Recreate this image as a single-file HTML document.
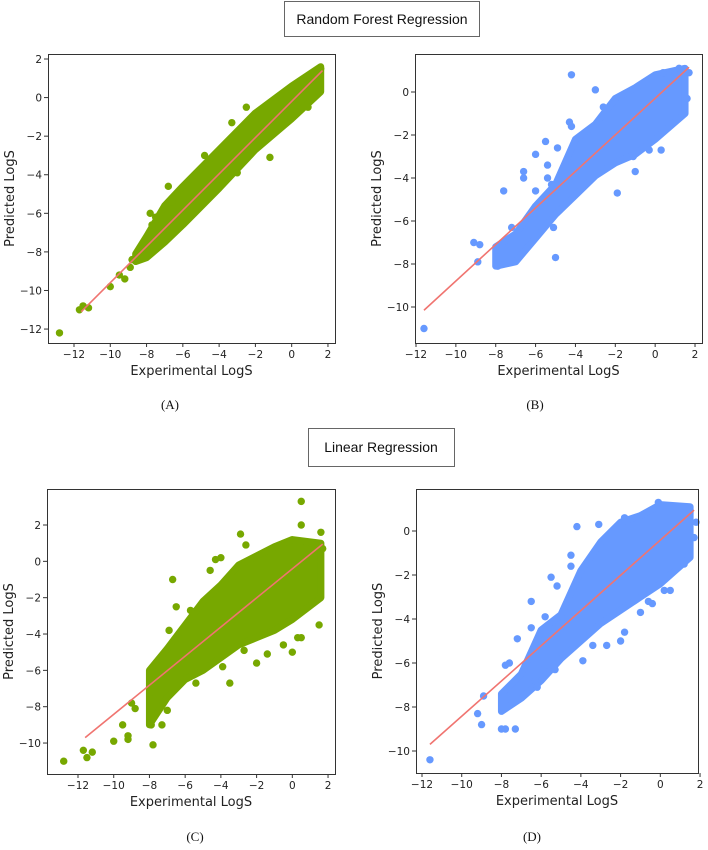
<!DOCTYPE html>
<html><head><meta charset="utf-8">
<style>
html,body{margin:0;padding:0;background:#fff;}
svg{display:block;font-family:"DejaVu Sans","Liberation Sans",sans-serif;}
.tick{font-size:10.5px;fill:#222;}
.axlab{font-size:13px;fill:#222;}
.cap{font-family:"Liberation Serif",serif;font-size:13px;fill:#111;}
.ttl{font-family:"Liberation Sans",sans-serif;font-size:14px;fill:#111;}
</style></head>
<body>
<svg id="fig" width="708" height="850" viewBox="0 0 708 850" xmlns="http://www.w3.org/2000/svg">
  <g>
    <rect x="284.5" y="1.5" width="195" height="35" fill="#fff" stroke="#666" stroke-width="1"/>
    <text class="ttl" x="382" y="24" text-anchor="middle">Random Forest Regression</text>
  </g>
  <g>
    <rect x="308.5" y="428.5" width="146" height="38" fill="#fff" stroke="#666" stroke-width="1"/>
    <text class="ttl" x="381" y="452" text-anchor="middle">Linear Regression</text>
  </g>
  <text class="cap" x="170" y="409" text-anchor="middle">(A)</text>
  <text class="cap" x="535" y="409" text-anchor="middle">(B)</text>
  <text class="cap" x="195" y="841" text-anchor="middle">(C)</text>
  <text class="cap" x="532" y="841" text-anchor="middle">(D)</text>
</svg>
<script>
// ---- Panel A data (Random Forest, green) ----
const aEnvX  = [-8.6, -8, -7, -6, -4, -2, 0, 1.6];
const aEnvHi = [-8.1, -7.2, -5.6, -4.6, -2.7, -0.8, 0.6, 1.6];
const aEnvLo = [-8.5, -8.3, -7.5, -6.6, -4.7, -2.7, -1.1, 0.3];
const aPtsX = [-12.8,-11.7,-11.5,-11.2,-10,-9.5,-9.2,-8.9,-8.8,-7.8,-7.7,-6.8,-6.6,-5.2,-3.3,-3.0,-1.2,-0.4,1.5,1.6,-4.8,-8.2,-7.5,-2.5,0.9];
const aPtsY = [-12.2,-11.0,-10.8,-10.9,-9.8,-9.2,-9.4,-8.8,-8.4,-6.0,-6.6,-4.6,-5.4,-5.7,-1.3,-3.9,-3.1,-1.1,0.3,1.5,-3.0,-7.8,-6.2,-0.5,-0.5];
const aLineX = [-11.6, 1.7];
const aLineY = [-11.1, 1.4];
// ---- Panel B data (Random Forest, blue) ----
const bEnvX  = [-8, -7, -6, -5, -4, -3, -2, -1, 0, 1.5];
const bEnvHi = [-7.2, -6.6, -5.3, -4.3, -2.2, -1.5, -0.3, 0.2, 0.8, 1.1];
const bEnvLo = [-8.1, -7.9, -6.8, -5.7, -4.8, -3.9, -3.3, -2.9, -2.2, -1.0];
const bPtsX = [-11.6,-9.1,-8.8,-8.9,-7.6,-6.6,-6.6,-6.0,-5.5,-5.4,-5.4,-4.9,-4.3,-4.2,-4.2,-3.0,-5.0,-5.1,-4.8,-1.9,-1.0,-0.3,0.3,1.7,1.6,0.4,1.2,-1.1,-6.0,-5.2,-2.6,-7.9,-7.2];
const bPtsY = [-11.0,-7.0,-7.1,-7.9,-4.6,-3.7,-4.0,-2.9,-2.3,-3.4,-4.0,-2.6,-1.4,-1.6,0.8,0.1,-7.7,-6.3,-5.5,-4.7,-3.7,-2.7,-2.7,0.9,-0.3,0.9,1.1,-3.0,-4.6,-4.3,-0.7,-8.1,-6.3];
const bLineX = [-11.6, 1.7];
const bLineY = [-10.15, 1.15];
// ---- Panel C data (Linear, green) ----
const cEnvX  = [-8, -7, -6, -5, -4, -3, -2, -1, 0, 1.6];
const cEnvHi = [-6.0, -4.8, -3.5, -2.2, -1.3, -0.2, 0.3, 0.8, 1.2, 1.0];
const cEnvLo = [-9.0, -7.5, -6.5, -6.0, -5.3, -4.6, -4.2, -3.8, -3.2, -2.0];
const cPtsX = [-12.8,-11.7,-11.5,-11.2,-10,-9.5,-9.2,-9.2,-9.0,-8.8,-7.8,-7.9,-7.3,-7.0,-6.7,-6.5,-6.9,-5.7,-4.3,-4.0,-2.9,-3.5,-2.0,-1.4,-0.5,0.3,0.5,0.0,1.5,0.5,0.5,1.6,-5.4,-2.7,-3.9,1.7,-2.6,-4.6];
const cPtsY = [-11.0,-10.4,-10.8,-10.5,-9.9,-9.0,-9.6,-9.8,-7.8,-8.1,-10.1,-9.0,-9.0,-8.2,-1.0,-2.5,-3.8,-2.7,0.1,0.2,1.5,-6.7,-5.6,-5.1,-4.6,-4.2,-4.2,-5.0,-3.5,3.3,2.0,1.6,-6.7,-4.9,-5.8,0.7,0.9,-0.5];
const cLineX = [-11.6, 1.7];
const cLineY = [-9.7, 0.95];
// ---- Panel D data (Linear, blue) ----
const dEnvX  = [-8, -7, -6, -5, -4, -3, -2, -1, 0, 1.5];
const dEnvHi = [-7.4, -6.5, -4.5, -3.8, -1.8, -0.5, 0.4, 0.7, 1.2, 1.1];
const dEnvLo = [-8.2, -7.6, -6.8, -5.8, -5.0, -4.2, -3.6, -3.0, -2.4, -1.2];
const dPtsX = [-11.6,-9.2,-9.0,-8.9,-8.0,-7.8,-7.3,-7.8,-7.6,-7.2,-6.5,-6.5,-5.8,-5.5,-5.2,-4.5,-4.5,-4.2,-3.1,-3.9,-3.4,-2.7,-2.0,-1.8,-1.0,-0.4,-0.6,0.2,0.5,1.2,1.7,1.8,-0.1,-1.8,-5.9,-5.3,-6.2,-6.3];
const dPtsY = [-10.4,-8.3,-8.8,-7.5,-9.0,-9.0,-9.0,-6.1,-6.0,-4.9,-3.2,-4.4,-3.9,-2.1,-2.5,-1.1,-1.6,0.2,0.3,-5.9,-5.2,-5.2,-5.0,-4.6,-3.7,-3.3,-3.2,-2.7,-2.7,-1.5,-0.3,0.4,1.3,0.6,-6.3,-6.3,-7.1,-6.8];
const dLineX = [-11.6, 1.7];
const dLineY = [-9.7, 0.95];
// ---- Ticks ----
const xTicks = [-12, -10, -8, -6, -4, -2, 0, 2];
const yTicksA = [2, 0, -2, -4, -6, -8, -10, -12];
const yTicksB = [0, -2, -4, -6, -8, -10];
const yTicksC = [2, 0, -2, -4, -6, -8, -10];
const yTicksD = [0, -2, -4, -6, -8, -10];

const NS = 'http://www.w3.org/2000/svg';
const svg = document.getElementById('fig');
function mk(tag, attrs, parent){
  const e = document.createElementNS(NS, tag);
  for (const k in attrs) e.setAttribute(k, attrs[k]);
  parent.appendChild(e); return e;
}
function panel(id, box, xmap, ymap, yTicks, color, envX, envHi, envLo, px, py, lx, ly){
  const g = mk('g', {}, svg);
  
  
  const sx = v => xmap[0] + (v - xmap[1]) * xmap[2];
  const sy = v => ymap[0] - (v - ymap[1]) * ymap[2];
  let pts = [];
  for (let i = 0; i < envX.length; i++) pts.push(sx(envX[i]) + ',' + sy(envHi[i]));
  for (let i = envX.length - 1; i >= 0; i--) pts.push(sx(envX[i]) + ',' + sy(envLo[i]));
  const band = mk('polygon', {points: pts.join(' '), fill: color, stroke: color, 'stroke-width': 7, 'stroke-linejoin': 'round'}, g);
  
  
  for (let i = 0; i < px.length; i++) {
    const c = mk('circle', {cx: sx(px[i]), cy: sy(py[i]), r: 3.7, fill: color}, g);
    
    
  }
  const ln = mk('line', {x1: sx(lx[0]), y1: sy(ly[0]), x2: sx(lx[1]), y2: sy(ly[1]), stroke: '#f07470', 'stroke-width': 1.6}, g);
  
  
  const fr = mk('rect', {x: box[0] + 0.5, y: box[1] + 0.5, width: box[2] - box[0], height: box[3] - box[1], fill: 'none', stroke: '#333', 'stroke-width': 1}, g);
  
  
  for (const t of xTicks) {
    const x = sx(t);
    mk('line', {x1: x, y1: box[3], x2: x, y2: box[3] + 4, stroke: '#333'}, g);
    const tx = mk('text', {x: x, y: box[3] + 15, 'text-anchor': 'middle', class: 'tick'}, g);
    tx.textContent = (t < 0 ? '\u2212' + (-t) : String(t));
    
    
  }
  for (const t of yTicks) {
    const y = sy(t);
    mk('line', {x1: box[0] - 4, y1: y, x2: box[0], y2: y, stroke: '#333'}, g);
    const tx = mk('text', {x: box[0] - 6, y: y + 4, 'text-anchor': 'end', class: 'tick'}, g);
    tx.textContent = (t < 0 ? '\u2212' + (-t) : String(t));
    
    
  }
  const xl = mk('text', {x: (box[0] + box[2]) / 2, y: box[3] + 32, 'text-anchor': 'middle', class: 'axlab'}, g);
  xl.textContent = 'Experimental LogS';
  
  
  const yx = box[0] - 34, yy = (box[1] + box[3]) / 2;
  const yl = mk('text', {x: yx, y: yy, 'text-anchor': 'middle', class: 'axlab', transform: 'rotate(-90 ' + yx + ' ' + yy + ')'}, g);
  yl.textContent = 'Predicted LogS';
  
  
}
panel('a', [48, 54, 335, 343], [74, -12, 18.14], [59, 2, 19.29], yTicksA, '#77a800', aEnvX, aEnvHi, aEnvLo, aPtsX, aPtsY, aLineX, aLineY);
panel('b', [415, 54, 702, 343], [416, -12, 19.93], [92, 0, 21.5], yTicksB, '#6699ff', bEnvX, bEnvHi, bEnvLo, bPtsX, bPtsY, bLineX, bLineY);
panel('c', [47, 489, 335, 774], [78, -12, 17.86], [525, 2, 18.17], yTicksC, '#77a800', cEnvX, cEnvHi, cEnvLo, cPtsX, cPtsY, cLineX, cLineY);
panel('d', [416, 489, 698, 773], [422, -12, 19.86], [531, 0, 22.0], yTicksD, '#6699ff', dEnvX, dEnvHi, dEnvLo, dPtsX, dPtsY, dLineX, dLineY);
</script>
</body></html>
